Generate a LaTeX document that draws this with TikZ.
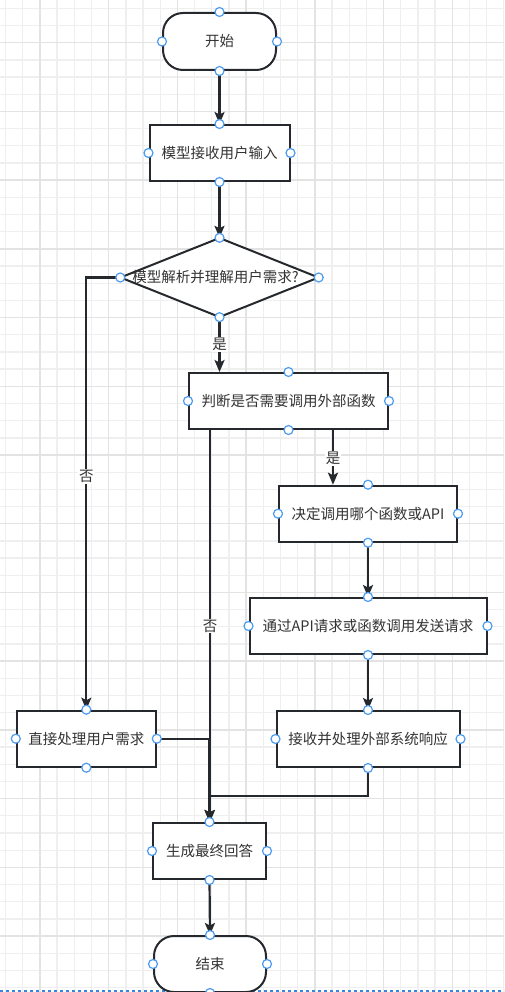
\documentclass[tikz,border=0pt]{standalone}
\usepackage{fontspec}
\newfontfamily\cjk{Noto Sans CJK SC}
\usetikzlibrary{arrows.meta,calc}
\definecolor{gridminor}{HTML}{EFEFEF}
\definecolor{gridmajor}{HTML}{E3E3E3}
\definecolor{edgecol}{HTML}{25292D}
\definecolor{txtcol}{HTML}{333333}
\definecolor{portcol}{HTML}{4D9BF0}
\definecolor{pagecol}{HTML}{3A86D8}
\tikzset{
  base/.style={draw=edgecol, line width=2pt, fill=white, text=txtcol,
    font=\cjk\fontsize{14.5}{17}\selectfont, inner sep=0pt},
  proc/.style={base, rectangle, minimum height=56pt},
  term/.style={base, rectangle, rounded corners=20pt, minimum height=57pt},
  arr/.style={draw=edgecol, line width=2.2pt, -{Stealth[length=12pt,width=10pt,inset=2.5pt]}},
  lbl/.style={fill=white, text=txtcol, font=\cjk\fontsize{14.5}{17}\selectfont, inner sep=1pt},
  port/.style={draw=portcol, fill=white, line width=1.2pt}
}
\begin{document}
\begin{tikzpicture}[x=1pt,y=-1pt]
\useasboundingbox (0,0) rectangle (504,992);
\fill[white] (0,0) rectangle (504,992);
% grid
\foreach \i in {0,...,29} {
  \draw[gridminor, line width=1.3pt] ({5.6+\i*17.18},0) -- ++(0,992);
}
\foreach \i in {0,...,58} {
  \draw[gridminor, line width=1.3pt] (0,{8.35+\i*17.18}) -- ++(504,0);
}
\foreach \i in {0,...,7} {
  \draw[gridmajor, line width=1.4pt] ({40+\i*68.72},0) -- ++(0,992);
}
\foreach \i in {0,...,14} {
  \draw[gridmajor, line width=1.4pt] (0,{42.7+\i*68.72}) -- ++(504,0);
}
\draw[pagecol, line width=1.6pt, dash pattern=on 3pt off 3pt] (0,991) -- (504,991);

% nodes
\node[term, minimum width=113pt] (start) at (219.5,41.5) {开始};
\node[proc, minimum width=140pt] (input) at (219.5,153) {模型接收用户输入};
\draw[edgecol, line width=2pt, fill=white] (219.5,238) -- (318.5,277.5) -- (219.5,317) -- (120.5,277.5) -- cycle;
\node[rectangle, minimum width=198pt, minimum height=79pt, inner sep=0pt, text=txtcol,
  font=\cjk\fontsize{14.5}{17}\selectfont] (dec) at (219.5,277.5) {\hspace*{-8pt}模型解析并理解用户需求?};
\node[proc, minimum width=199pt] (decide) at (288.5,401) {判断是否需要调用外部函数};
\node[proc, minimum width=178pt] (choose) at (368,513.7) {决定调用哪个函数或API};
\node[proc, minimum width=237pt] (send) at (368,626) {通过API请求或函数调用发送请求};
\node[proc, minimum width=183pt] (recv) at (368,739) {接收并处理外部系统响应};
\node[proc, minimum width=139pt] (direct) at (86.3,738.7) {直接处理用户需求};
\node[proc, minimum width=113pt] (gen) at (209.5,851) {生成最终回答};
\node[term, minimum width=112pt, minimum height=56pt] (end) at (210,964) {结束};

% connectors
\draw[arr] (start.south) -- (input.north);
\draw[arr] (input.south) -- (dec.north);
\draw[arr] (dec.south) -- (dec.south |- decide.north) node[lbl, pos=0.5] {是};
\draw[arr] (dec.west) -| (direct.north) node[lbl, pos=0.73] {否};
\draw[arr] ([xshift=44.5pt]decide.south) -- ([xshift=-35pt]choose.north) node[lbl, pos=0.52] {是};
\draw[arr] ([xshift=-78.5pt]decide.south) -- ([xshift=-78.5pt]decide.south |- gen.north) node[lbl, pos=0.5] {否};
\draw[arr] (choose.south) -- (send.north);
\draw[arr] (send.south) -- (recv.north);
\draw[arr] (recv.south) -- ++(0,28) -| (gen.north);
\draw[arr] (direct.east) -| (gen.north);
\draw[arr] (gen.south) -- (end.north);

% ports
\foreach \n in {start,input,dec,decide,choose,send,recv,direct,gen,end} {
  \foreach \a in {north,south,east,west} {
    \draw[port] (\n.\a) circle (4.5pt);
  }
}
\end{tikzpicture}
\end{document}
